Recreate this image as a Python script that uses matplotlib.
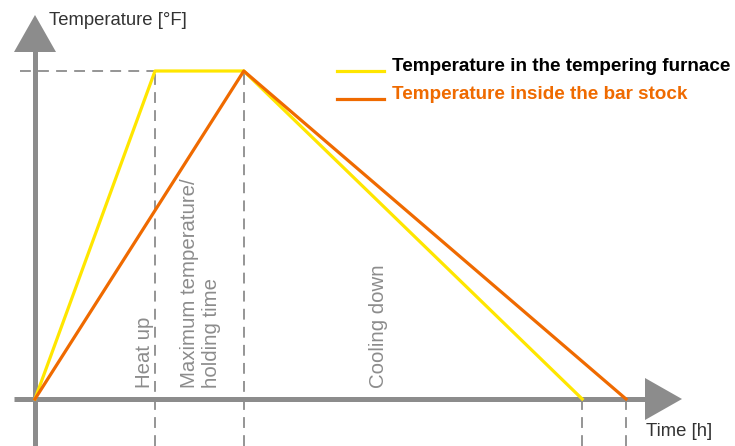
import matplotlib.pyplot as plt
from matplotlib.patches import Polygon

# time [h] (arbitrary scale) and normalised temperature
furnace_t = [0.0, 2.0, 3.48, 9.12]
furnace_T = [0.0, 1.0, 1.0, 0.0]
stock_t = [0.0, 3.48, 9.85]
stock_T = [0.0, 1.0, 0.0]
phase_marks = [2.0, 3.48]
end_marks = [9.12, 9.85]
phase_labels = ["Heat up", "Maximum temperature/\nholding time", "Cooling down"]
phase_label_t = [1.83, 2.76, 5.72]
series_labels = ["Temperature in the tempering furnace", "Temperature inside the bar stock"]

YELLOW = "#ffe600"
ORANGE = "#ef6a00"
GREY = "#8c8c8c"

W, H = 735, 446
X0, Y0 = 35, 47          # origin in pixels (from bottom-left)
SX, SY = 60.0, 328.0     # pixels per unit

plt.rcParams["font.family"] = ["Liberation Sans", "DejaVu Sans"]

fig = plt.figure(figsize=(W / 100, H / 100), dpi=100)
ax = fig.add_axes([0, 0, 1, 1])
ax.set_xlim(-X0 / SX, (W - X0) / SX)
ax.set_ylim(-Y0 / SY, (H - Y0) / SY)
ax.axis("off")


def px(x, y):
    # pixel (from top-left) -> data
    return (x - X0) / SX, (H - y - Y0) / SY


# axes lines
ax.plot(*zip(px(14, 399), px(650, 399)), color=GREY, lw=3.6, solid_capstyle="butt", zorder=2)
ax.plot(*zip(px(35, 446), px(35, 48)), color=GREY, lw=3.6, solid_capstyle="butt", zorder=2)
ax.add_patch(Polygon([px(14, 52), px(56, 52), px(35, 15)], closed=True, color=GREY, lw=0, zorder=3))
ax.add_patch(Polygon([px(645, 378), px(645, 420), px(682, 399)], closed=True, color=GREY, lw=0, zorder=3))

# dashed guides
dash = dict(color=GREY, lw=1.3, ls=(0, (6, 4)), zorder=1)
ax.plot([px(20, 0)[0], phase_marks[0]], [1, 1], **dash)
bottom = px(0, 446)[1]
for t in phase_marks:
    ax.plot([t, t], [bottom, 1], **dash)
for t in end_marks:
    ax.plot([t, t], [bottom, 0], **dash)

# curves
ax.plot(furnace_t, furnace_T, color=YELLOW, lw=2.3, zorder=4)
ax.plot(stock_t, stock_T, color=ORANGE, lw=2.3, zorder=5)

# phase labels
for t, lab in zip(phase_label_t, phase_labels):
    ax.text(t, px(0, 388)[1], lab, rotation=90, ha="center", va="bottom",
            multialignment="left", color=GREY, fontsize=14.7, linespacing=1.15)

# axis titles
ax.text(*px(49, 20), "Temperature [°F]", ha="left", va="center", color="#333333", fontsize=13.3)
ax.text(*px(646, 432), "Time [h]", ha="left", va="center", color="#333333", fontsize=13.3)

# legend
for (y, col, lab, tc) in [(71, YELLOW, series_labels[0], "black"), (99, ORANGE, series_labels[1], ORANGE)]:
    ax.plot(*zip(px(337, y), px(384, y)), color=col, lw=2.3)
    ax.text(*px(392, y - 5), lab, ha="left", va="center", color=tc, fontsize=13.6, fontweight="bold")

fig.savefig("out.png", dpi=100)
